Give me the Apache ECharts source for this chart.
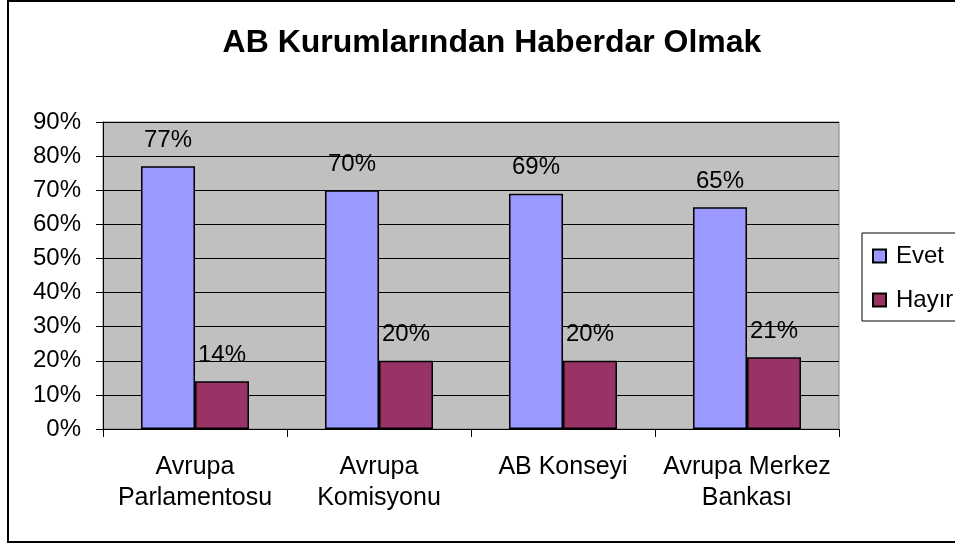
<!DOCTYPE html>
<html>
<head>
<meta charset="utf-8">
<script src="https://cdn.jsdelivr.net/npm/echarts@6/dist/echarts.min.js"></script>
<style>
html,body{margin:0;padding:0;background:#fff;}
#c{width:955px;height:544px;}
</style>
</head>
<body>
<div id="c"></div>
<script>
const titleText = 'AB Kurumlarından Haberdar Olmak';
const categories = ['Avrupa\nParlamentosu', 'Avrupa\nKomisyonu', 'AB Konseyi', 'Avrupa Merkez\nBankası'];
const evetValues = [77, 70, 69, 65];
const hayirValues = [14, 20, 20, 21];
const seriesNames = ['Evet', 'Hayır'];
const yTicks = [0, 90, 10]; // min, max, interval

const FONT = '"Liberation Sans", Arial, sans-serif';
const chart = echarts.init(document.getElementById('c'), null, {renderer: 'canvas'});

const labelCfg = {
  show: true,
  position: 'top',
  distance: 14,
  formatter: '{c}%',
  color: '#000',
  fontFamily: FONT,
  fontSize: 24
};

chart.setOption({
  animation: false,
  backgroundColor: '#fff',
  textStyle: {fontFamily: FONT},
  graphic: [{
    type: 'rect',
    shape: {x: 8, y: 1, width: 1000, height: 541},
    style: {fill: 'none', stroke: '#000', lineWidth: 2},
    silent: true,
    z: -10
  }],
  title: {
    text: titleText,
    left: 487,
    textAlign: 'center',
    top: 22,
    textStyle: {fontFamily: FONT, fontSize: 32, fontWeight: 'bold', color: '#000'}
  },
  legend: {
    orient: 'vertical',
    left: 862,
    top: 233,
    padding: [11, 60, 9, 10],
    itemGap: 20,
    itemWidth: 13,
    itemHeight: 13,
    icon: 'rect',
    backgroundColor: '#fff',
    borderColor: '#000',
    borderWidth: 1,
    borderRadius: 0,
    textStyle: {fontFamily: FONT, fontSize: 24, color: '#000', lineHeight: 22, padding: [0, 0, 0, 5]},
    data: seriesNames
  },
  grid: {
    left: 103,
    right: 116,
    top: 122,
    bottom: 115,
    show: true,
    backgroundColor: '#C0C0C0',
    borderColor: '#808080',
    borderWidth: 1,
    containLabel: false
  },
  xAxis: {
    type: 'category',
    data: categories,
    axisLine: {show: true, lineStyle: {color: '#000', width: 1}},
    axisTick: {show: true, length: 8, lineStyle: {color: '#000'}},
    axisLabel: {
      margin: 23,
      color: '#000',
      fontFamily: FONT,
      fontSize: 25,
      lineHeight: 31,
      interval: 0
    },
    splitLine: {show: false}
  },
  yAxis: {
    type: 'value',
    min: yTicks[0],
    max: yTicks[1],
    interval: yTicks[2],
    axisLine: {show: true, lineStyle: {color: '#000', width: 1}},
    axisTick: {show: true, length: 7, lineStyle: {color: '#000'}},
    axisLabel: {
      margin: 22,
      formatter: '{value}%',
      color: '#000',
      fontFamily: FONT,
      fontSize: 24
    },
    splitLine: {show: true, lineStyle: {color: '#000', width: 1}}
  },
  series: [
    {
      name: seriesNames[0],
      type: 'bar',
      data: evetValues,
      barWidth: 54,
      barGap: '0%',
      itemStyle: {color: '#9999FF', borderColor: '#000', borderWidth: 1.5},
      label: labelCfg
    },
    {
      name: seriesNames[1],
      type: 'bar',
      data: hayirValues,
      barWidth: 54,
      barGap: '0%',
      itemStyle: {color: '#993366', borderColor: '#000', borderWidth: 1.5},
      label: labelCfg
    }
  ]
});
</script>
</body>
</html>
